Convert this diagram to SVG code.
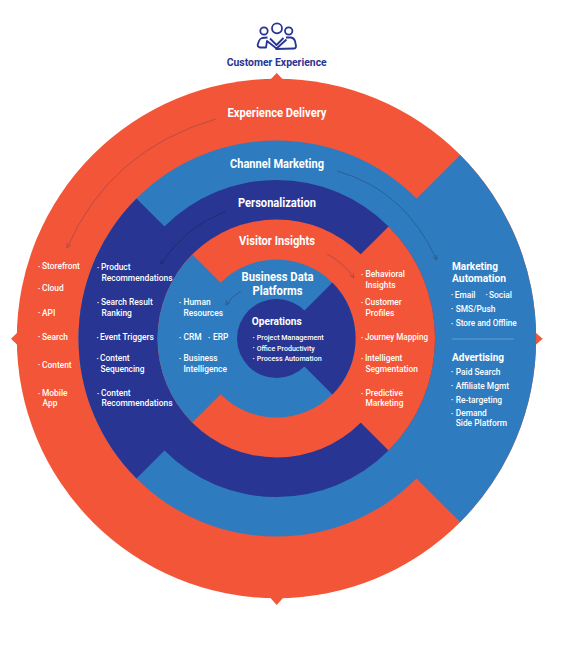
<svg xmlns="http://www.w3.org/2000/svg" width="561" height="651" viewBox="0 0 561 651">
<style>
.r{fill:#f35538}.b{fill:#2e7cbf}.n{fill:#283593}
text{font-family:"Roboto","Liberation Sans",sans-serif;fill:#fff;font-weight:500}
.s{font-size:8.4px}.o{font-size:7.3px}
.h{font-size:12px;text-anchor:middle;font-weight:700}
.h2{font-size:11.500px;font-weight:700}
.d{font-size:6px}
.a{fill:none;stroke-width:.8}
</style>
<defs>
<marker id="mr" viewBox="0 0 8 8" refX="7" refY="4" markerWidth="6" markerHeight="6" markerUnits="userSpaceOnUse" orient="auto"><path d="M1 1L7 4L1 7" fill="none" stroke="#a84a46" stroke-width="1"/></marker>
<marker id="mn" viewBox="0 0 8 8" refX="7" refY="4" markerWidth="6" markerHeight="6" markerUnits="userSpaceOnUse" orient="auto"><path d="M1 1L7 4L1 7" fill="none" stroke="#1c2a6b" stroke-width="1"/></marker>
<marker id="mb" viewBox="0 0 8 8" refX="7" refY="4" markerWidth="6" markerHeight="6" markerUnits="userSpaceOnUse" orient="auto"><path d="M1 1L7 4L1 7" fill="none" stroke="#26598f" stroke-width="1"/></marker>
</defs>
<g id="experience-delivery">
<path class="r" d="M270.500 79.500L276.700 73L283 79.500ZM270.500 598L276.700 605L283 598ZM17.500 332.500L11 338.700L17.500 345ZM535.500 332.500L542.700 338.700L535.500 345Z"/>
<circle class="r" cx="276.500" cy="338.500" r="259.700"/>
<path class="b" d="M276.500 338.500L460.100 154.900A259.700 259.700 0 0 1 460.100 522.100Z"/>
<text class="h" x="277" y="117" textLength="99" lengthAdjust="spacingAndGlyphs">Experience Delivery</text>
<g class="s">
<text><tspan class="d" x="38" y="268.500">•</tspan><tspan x="42" y="269">Storefront</tspan></text>
<text><tspan class="d" x="38" y="290.500">•</tspan><tspan x="42" y="291">Cloud</tspan></text>
<text><tspan class="d" x="38" y="315">•</tspan><tspan x="42" y="315.500">API</tspan></text>
<text><tspan class="d" x="38" y="339">•</tspan><tspan x="42" y="339.500">Search</tspan></text>
<text><tspan class="d" x="38" y="367">•</tspan><tspan x="42" y="367.500">Content</tspan></text>
<text><tspan class="d" x="38" y="395.500">•</tspan><tspan x="42" y="396">Mobile</tspan><tspan x="42.500" y="406">App</tspan></text>
</g>
</g>
<g id="channel-marketing">
<circle class="b" cx="276.500" cy="338.500" r="198"/>
<path class="n" d="M276.500 338.500L136.500 198.500A198 198 0 0 0 136.500 478.500Z"/>
<text class="h" x="277" y="167.500" textLength="94" lengthAdjust="spacingAndGlyphs">Channel Marketing</text>
<g class="s">
<text class="h2" x="452" y="270" textLength="46" lengthAdjust="spacingAndGlyphs">Marketing</text>
<text class="h2" x="452" y="282" textLength="54" lengthAdjust="spacingAndGlyphs">Automation</text>
<text><tspan class="d" x="451" y="297">•</tspan><tspan x="454.700" y="297.500">Email</tspan><tspan class="d" x="485.500" y="297">•</tspan><tspan x="489" y="297.500">Social</tspan></text>
<text><tspan class="d" x="451" y="311">•</tspan><tspan x="455.700" y="311.500">SMS/Push</tspan></text>
<text><tspan class="d" x="451" y="325.500">•</tspan><tspan x="455.700" y="326" textLength="61" lengthAdjust="spacingAndGlyphs">Store and Offline</tspan></text>
<text class="h2" x="452" y="361" textLength="52" lengthAdjust="spacingAndGlyphs">Advertising</text>
<text><tspan class="d" x="451" y="374">•</tspan><tspan x="455.700" y="374.500">Paid Search</tspan></text>
<text><tspan class="d" x="451" y="388.200">•</tspan><tspan x="455.700" y="388.700">Affiliate Mgmt</tspan></text>
<text><tspan class="d" x="451" y="402">•</tspan><tspan x="455.700" y="402.500">Re-targeting</tspan></text>
<text><tspan class="d" x="451" y="415.500">•</tspan><tspan x="455.700" y="416">Demand</tspan><tspan x="455.700" y="426">Side Platform</tspan></text>
</g>
<path d="M451.700 339H514" stroke="#6ea6d6" stroke-width=".8"/>
</g>
<g id="personalization">
<circle class="n" cx="276.500" cy="338.500" r="158.500"/>
<path class="r" d="M276.500 338.500L388.600 226.400A158.500 158.500 0 0 1 388.600 450.600Z"/>
<text class="h" x="277" y="206.700" textLength="78" lengthAdjust="spacingAndGlyphs">Personalization</text>
<g class="s">
<text><tspan class="d" x="97" y="269.500">•</tspan><tspan x="101" y="270">Product</tspan><tspan x="101.500" y="280.500" textLength="71" lengthAdjust="spacingAndGlyphs">Recommendations</tspan></text>
<text><tspan class="d" x="97" y="304.500">•</tspan><tspan x="101" y="305">Search Result</tspan><tspan x="101.500" y="315.500">Ranking</tspan></text>
<text><tspan class="d" x="96.500" y="339.500">•</tspan><tspan x="100" y="340">Event Triggers</tspan></text>
<text><tspan class="d" x="96.500" y="360.500">•</tspan><tspan x="100" y="361">Content</tspan><tspan x="100.500" y="371.500">Sequencing</tspan></text>
<text><tspan class="d" x="97" y="395.500">•</tspan><tspan x="101" y="396">Content</tspan><tspan x="101.500" y="405.500" textLength="71" lengthAdjust="spacingAndGlyphs">Recommendations</tspan></text>
</g>
</g>
<g id="visitor-insights">
<circle class="r" cx="276.500" cy="338.500" r="119"/>
<path class="b" d="M276.500 338.500L192.400 254.400A119 119 0 0 0 192.400 422.600Z"/>
<text class="h" x="277" y="245" textLength="76" lengthAdjust="spacingAndGlyphs">Visitor Insights</text>
<g class="s">
<text><tspan class="d" x="361" y="276.500">•</tspan><tspan x="365.500" y="277">Behavioral</tspan><tspan x="365.500" y="287.500">Insights</tspan></text>
<text><tspan class="d" x="361" y="304.500">•</tspan><tspan x="365" y="305">Customer</tspan><tspan x="365.500" y="315.500">Profiles</tspan></text>
<text><tspan class="d" x="361" y="339.500">•</tspan><tspan x="365" y="340" textLength="63" lengthAdjust="spacingAndGlyphs">Journey Mapping</tspan></text>
<text><tspan class="d" x="361" y="360.500">•</tspan><tspan x="365" y="361">Intelligent</tspan><tspan x="365.500" y="371.500">Segmentation</tspan></text>
<text><tspan class="d" x="361" y="395.500">•</tspan><tspan x="365.500" y="396">Predictive</tspan><tspan x="365.500" y="406">Marketing</tspan></text>
</g>
</g>
<g id="business-data-platforms">
<circle class="b" cx="276.500" cy="338.500" r="79"/>
<path class="n" d="M276.500 338.500L332.400 282.600A79 79 0 0 1 332.400 394.400Z"/>
<text class="h" x="277.500" y="280.700" textLength="72" lengthAdjust="spacingAndGlyphs">Business Data</text>
<text class="h" x="277.500" y="294.700" textLength="50" lengthAdjust="spacingAndGlyphs">Platforms</text>
<g class="s">
<text><tspan class="d" x="179" y="304.500">•</tspan><tspan x="183.500" y="305">Human</tspan><tspan x="183.500" y="315.500">Resources</tspan></text>
<text><tspan class="d" x="179" y="339.500">•</tspan><tspan x="183.500" y="340">CRM</tspan><tspan class="d" x="208" y="339.500">•</tspan><tspan x="213" y="340">ERP</tspan></text>
<text><tspan class="d" x="179" y="360.500">•</tspan><tspan x="183.500" y="361">Business</tspan><tspan x="183.500" y="371.500">Intelligence</tspan></text>
</g>
</g>
<g id="operations">
<circle class="n" cx="276.500" cy="338.500" r="39.500"/>
<text class="h" x="276.700" y="324.700" textLength="50" lengthAdjust="spacingAndGlyphs" style="font-size:11px">Operations</text>
<g class="o">
<text><tspan class="d" x="252.500" y="339.500">•</tspan><tspan x="256.700" y="340" textLength="67" lengthAdjust="spacingAndGlyphs">Project Management</tspan></text>
<text><tspan class="d" x="252.500" y="350">•</tspan><tspan x="256.700" y="350.500" textLength="58" lengthAdjust="spacingAndGlyphs">Office Productivity</tspan></text>
<text><tspan class="d" x="252.500" y="360.500">•</tspan><tspan x="256.700" y="361" textLength="65" lengthAdjust="spacingAndGlyphs">Process Automation</tspan></text>
</g>
</g>
<g id="connectors">
<path class="a" stroke="#a84a46" marker-end="url(#mr)" d="M215.700 119Q110 150 67 248"/>
<path class="a" stroke="#1c2a6b" marker-end="url(#mn)" d="M226 211Q185 227 160.700 264"/>
<path class="a" stroke="#26598f" marker-end="url(#mb)" d="M337 171Q405 190 436.700 260"/>
<path class="a" stroke="#a84a46" marker-end="url(#mr)" d="M327 254Q344 263 354 278"/>
<path class="a" stroke="#26598f" marker-end="url(#mb)" d="M241 291Q232 296 226 305"/>
</g>
<g id="customer-experience">
<g fill="none" stroke="#283593" stroke-width="1.800" stroke-linejoin="round">
<circle cx="264" cy="31" r="3.700"/><circle cx="277" cy="28.300" r="5"/><circle cx="288.700" cy="31" r="3.700"/>
<path d="M267.500 37.500L262 38Q260 38.500 259 41L257.700 44.500Q257.300 47 260 47.500L266 47.500L267 41L276.500 48.500L286.500 39.500"/>
<path d="M286 37.500L291 37.500Q294 38 295 41L296 46Q296 48.500 294 48.500L275.500 49"/>
<path d="M270 38.500L276.500 45L283.500 38"/>
</g>
<text x="276.700" y="66" textLength="100" lengthAdjust="spacingAndGlyphs" style="font-size:10.500px;text-anchor:middle;fill:#283593;font-weight:700">Customer Experience</text>
</g>
</svg>
